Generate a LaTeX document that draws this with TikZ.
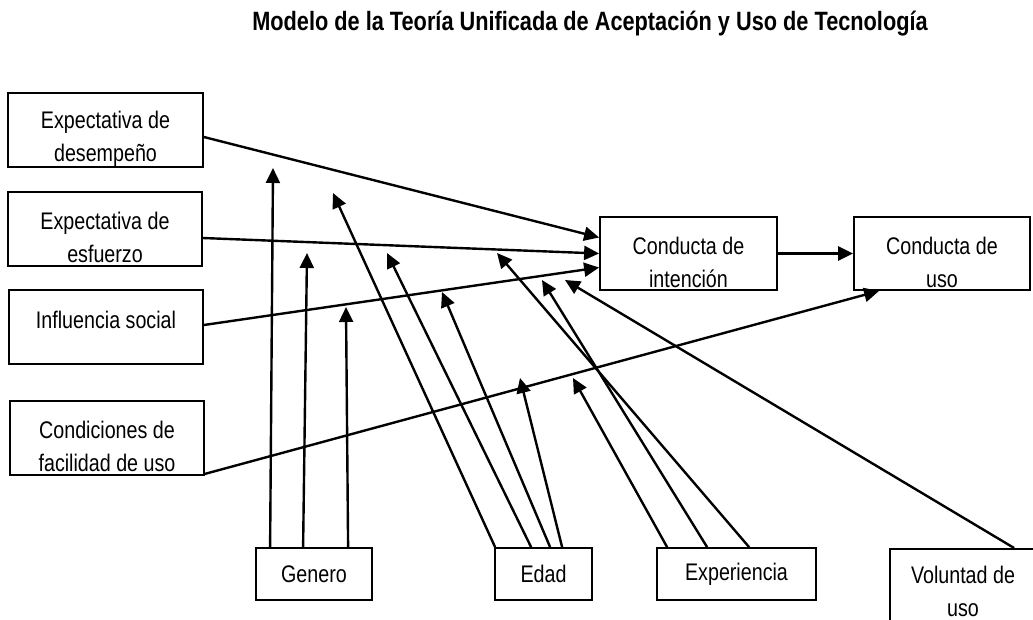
\documentclass[tikz,border=0pt]{standalone}
\usepackage{fontspec}
\setmainfont[FakeStretch=0.82]{Liberation Sans}
\usetikzlibrary{arrows.meta,calc}
\newcommand\alto{\rule{0pt}{35pt}}

\begin{document}
\begin{tikzpicture}[x=1pt,y=1pt,yscale=-1,xscale=1,
		caja/.style={draw,line width=1.8pt,minimum width=#1,minimum height=74pt,inner sep=0pt,align=center,font=\fontsize{24}{33}\selectfont},
		flecha/.style={line width=2.4pt,-{Triangle[length=15pt,width=14pt]}}]
			\clip (0,0) rectangle (1033,619);
			
			% Title
			\node (titulo) at (590,30) [anchor=base,font=\bfseries\fontsize{26.5}{30}\selectfont] {Modelo de la Teoría Unificada de Aceptación y Uso de Tecnología};
			
			% Left boxes
			\node (desempeno) at (105.5,130) [caja=195pt] {\alto Expectativa de\\desempeño};
			\node (esfuerzo) at (105,229) [caja=194pt] {\alto Expectativa de\\esfuerzo};
			\node (social) at (106,327) [caja=194pt] {\alto Influencia social\\\mbox{}};
			\node (facilidad) at (107,438) [caja=194pt] {\alto Condiciones de\\facilidad de uso};
			
			% Middle boxes
			\node (intencion) at (688.5,253.5) [caja=177pt,minimum height=73pt] {\alto Conducta de\\intención};
			\node (uso) at (942,253.5) [caja=176pt,minimum height=73pt] {\alto Conducta de\\uso};
			
			% Bottom boxes
			\node (genero) at (314,574) [caja=116pt,minimum height=52pt] {Genero};
			\node (edad) at (543.5,574) [caja=97pt,minimum height=52pt] {Edad};
			\node (experiencia) at (736.5,574) [caja=159pt,minimum height=52pt] {Experiencia};
			\node (voluntad) at (963,548) [anchor=north,caja=146pt,minimum height=74pt] {\rule{0pt}{29pt}Voluntad de\\uso};
			
			% Free arrow tips
			\coordinate (g1) at (273,168);
			\coordinate (g2) at (307,253);
			\coordinate (g3) at (346,307);
			\coordinate (e1) at (333,193);
			\coordinate (e2) at (387,253);
			\coordinate (e3) at (442,292);
			\coordinate (e4) at (520,378);
			\coordinate (x1) at (573,378);
			\coordinate (x2) at (542,280);
			\coordinate (x3) at (497,253);
			\coordinate (v1) at (565,280);
			
			% Arrows to Conducta de intencion
			\draw [flecha] ($(desempeno.east)+(0,7)$) -- ($(intencion.west)+(0,-16)$);
			\draw [flecha] ($(esfuerzo.east)+(0,9)$) -- (intencion.west);
			\draw [flecha] ($(social.east)+(0,-2)$) -- ($(intencion.west)+(0,14)$);
			\draw [flecha] (intencion.east) -- (uso.west);
			\draw [flecha] ($(facilidad.south east)+(0,-2)$) -- ($(uso.south west)+(26,0)$);
			
			% Genero
			\draw [flecha] ($(genero.north west)+(15,0)$) -- (g1);
			\draw [flecha] ($(genero.north west)+(48,0)$) -- (g2);
			\draw [flecha] ($(genero.north west)+(93,0)$) -- (g3);
			
			% Edad
			\draw [flecha] ($(edad.north west)+(1,0)$) -- (e1);
			\draw [flecha] ($(edad.north west)+(37,0)$) -- (e2);
			\draw [flecha] ($(edad.north west)+(56,0)$) -- (e3);
			\draw [flecha] ($(edad.north west)+(68,0)$) -- (e4);
			
			% Experiencia
			\draw [flecha] ($(experiencia.north west)+(11,0)$) -- (x1);
			\draw [flecha] ($(experiencia.north west)+(51,0)$) -- (x2);
			\draw [flecha] ($(experiencia.north west)+(93,0)$) -- (x3);
			
			% Voluntad de uso
			\draw [flecha] ($(voluntad.north west)+(125,0)$) -- (v1);
		\end{tikzpicture}
\end{document}
